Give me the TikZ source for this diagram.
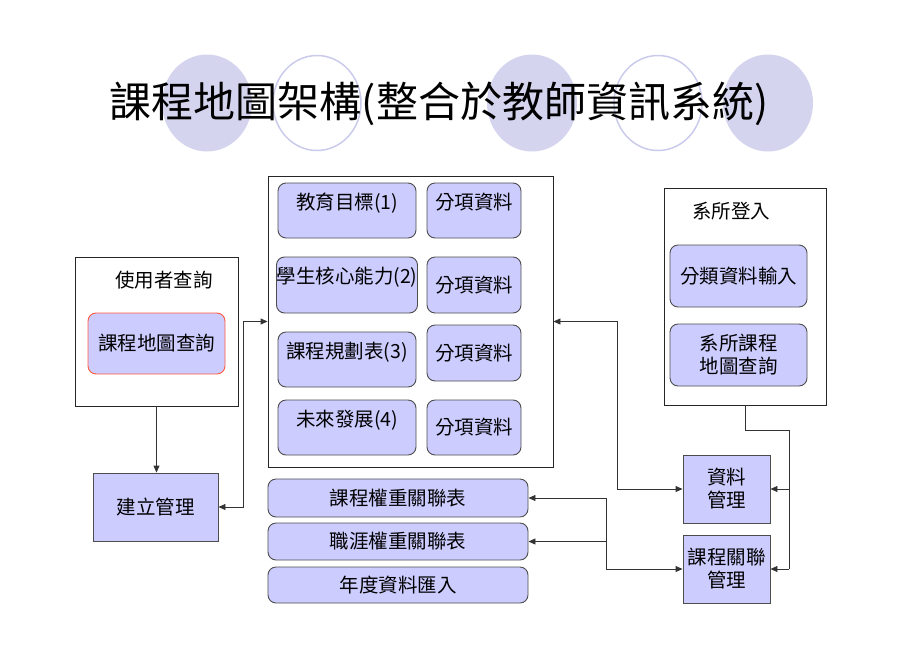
\documentclass[tikz,border=0pt]{standalone}
\usepackage{fontspec}
\setmainfont{Noto Sans CJK TC}
\usetikzlibrary{arrows.meta}
\definecolor{boxfill}{HTML}{CCCCFF}
\definecolor{boxline}{HTML}{4D4D4D}
\definecolor{mapred}{HTML}{FF5A3C}
\definecolor{dotfill}{HTML}{D4D4EF}
\definecolor{ringline}{HTML}{CACAEC}
\begin{document}
\begin{tikzpicture}[
  x=1pt, y=-1pt,
  block/.style={rectangle, rounded corners=8pt, draw=boxline, fill=boxfill, line width=0.9pt, inner sep=0pt, align=center, font=\fontsize{19.5}{23}\selectfont},
  plain/.style={block, sharp corners},
  frame/.style={rectangle, draw=black!85, line width=0.9pt},
  raised/.style={text height=17pt, text depth=20pt},
  arr/.style={-{Triangle[length=7pt,width=6pt]}, draw=black!80, line width=0.9pt},
  both/.style={{Triangle[length=7pt,width=6pt]}-{Triangle[length=7pt,width=6pt]}, draw=black!80, line width=0.9pt},
  link/.style={draw=black!80, line width=0.9pt},
  font=\fontsize{19.5}{23}\selectfont
]
\useasboundingbox (0,0) rectangle (920,651);

\fill[dotfill] (207,103) ellipse [x radius=45pt, y radius=48.5pt];
\draw[ringline, line width=1.5pt] (317,103) ellipse [x radius=44pt, y radius=47.5pt];
\fill[dotfill] (532,103) ellipse [x radius=45pt, y radius=48.5pt];
\draw[ringline, line width=1.5pt] (658,103) ellipse [x radius=44pt, y radius=47.5pt];
\fill[dotfill] (768,103) ellipse [x radius=45pt, y radius=48.5pt];
\node[font=\fontsize{42}{48}\selectfont] (title) at (439,104) {課程地圖架構(整合於教師資訊系統)};

\node[frame, minimum width=163pt, minimum height=149pt] (user) at (156.5,331.5) {};
\node (userlbl) at (164,280) {使用者查詢};
\node[block, draw=mapred, minimum width=137pt, minimum height=61pt] (mapquery) at (156.5,343.5) {課程地圖查詢};
\node[plain, minimum width=125pt, minimum height=68pt] (build) at (155.5,507) {建立管理};

\node[frame, minimum width=285pt, minimum height=291pt] (panel) at (410.5,321.5) {};
\node[block, raised, minimum width=138pt, minimum height=55pt] (goal) at (347,210.5) {教育目標(1)};
\node[block, raised, minimum width=138pt, minimum height=56pt] (core) at (347,285) {學生核心能力(2)};
\node[block, raised, minimum width=138pt, minimum height=55pt] (plan) at (347,359.5) {課程規劃表(3)};
\node[block, raised, minimum width=138pt, minimum height=55pt] (future) at (347,427.5) {未來發展(4)};
\node[block, raised, minimum width=94pt, minimum height=55pt] (item1) at (474,210.5) {分項資料};
\node[block, minimum width=94pt, minimum height=56pt] (item2) at (474,285) {分項資料};
\node[block, minimum width=94pt, minimum height=56pt] (item3) at (474,353) {分項資料};
\node[block, minimum width=94pt, minimum height=55pt] (item4) at (474,427.5) {分項資料};

\node[block, minimum width=260pt, minimum height=38pt] (weight1) at (398,498) {課程權重關聯表};
\node[block, minimum width=260pt, minimum height=37pt] (weight2) at (398,541.5) {職涯權重關聯表};
\node[block, minimum width=260pt, minimum height=36pt] (yearly) at (398,585) {年度資料匯入};

\node[frame, minimum width=162pt, minimum height=217pt] (dept) at (745,296.5) {};
\node (deptlbl) at (731,211) {系所登入};
\node[block, minimum width=137pt, minimum height=62pt] (classify) at (738.5,276) {分類資料輸入};
\node[block, minimum width=137pt, minimum height=62pt] (deptmap) at (738.5,355) {系所課程\\地圖查詢};
\node[plain, minimum width=87pt, minimum height=68pt] (datamgr) at (726.5,489) {資料\\管理};
\node[plain, minimum width=87pt, minimum height=68pt] (relmgr) at (726.5,569) {課程關聯\\管理};

\coordinate (bus) at (789,430);
\coordinate (fork) at (606,498);

\draw[arr] (user.south) -- (user.south |- build.north);
\draw[both] (build.east) -- ++(25,0) |- (panel.west);
\draw[both] (datamgr.west) -- ++(-65,0) |- (panel.east);
\draw[link] (dept.south) |- (bus) -- (bus |- relmgr.east);
\draw[arr] (bus |- datamgr.east) -- (datamgr.east);
\draw[arr] (bus |- relmgr.east) -- (relmgr.east);
\draw[both] (weight1.east) -- (fork) |- (relmgr.west);
\draw[arr] (fork |- weight2.east) -- (weight2.east);
\end{tikzpicture}
\end{document}
